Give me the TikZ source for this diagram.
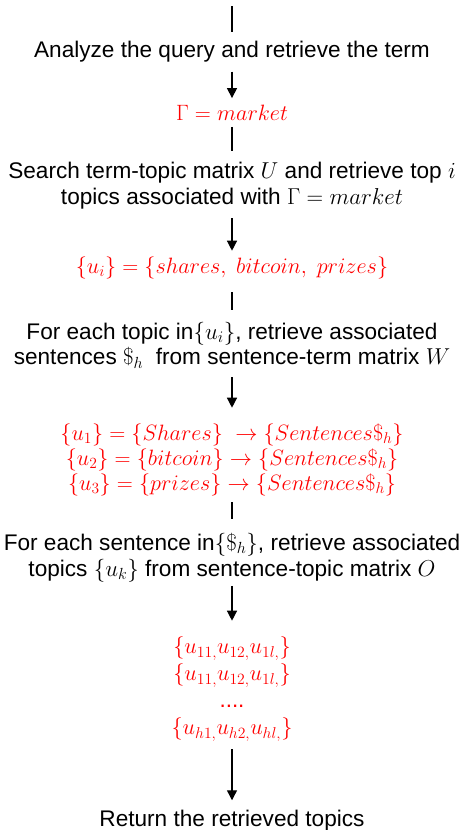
\RequirePackage{fix-cm}
\documentclass[tikz,border=0pt]{standalone}
\usepackage{fontspec}
\setmainfont{Liberation Sans}
\usetikzlibrary{arrows.meta}
\definecolor{redt}{RGB}{255,0,0}
\newcommand{\mth}[1]{{\fontsize{23}{25.5}\selectfont$#1$}}
\tikzset{
  txt/.style={inner sep=0pt, align=center, font=\fontsize{22.6}{25.5}\selectfont},
  rtxt/.style={inner sep=0pt, align=center, text=redt, font=\fontsize{22.2}{25}\selectfont},
  conn/.style={line width=1.3pt, black},
  arr/.style={conn, -{Triangle[length=10pt,width=10pt]}},
}
\begin{document}
\begin{tikzpicture}[x=1pt,y=-1pt]
\useasboundingbox (0,0) rectangle (460,830);
\coordinate (top) at (232,6);
\node[txt] (a) at (232,52) {Analyze the query and retrieve the term};
\node[rtxt] (g) at (232,113) {$\Gamma = market$};
\node[txt] (s) at (232,185.5) {Search term-topic matrix \mth{U} and retrieve top \mth{i}\\ topics associated with \mth{\Gamma = market}};
\node[rtxt] (ui) at (232,268) {$\{u_i\} = \{shares,\ bitcoin,\ prizes\}$};
\node[txt] (f) at (232,345) {For each topic in\mth{\{u_i\}}, retrieve associated\\ sentences \mth{\$_h}\ \ from sentence-term matrix \mth{W}};
\node[rtxt] (r3) at (232,460) {$\{u_1\} = \{Shares\}\ \rightarrow \{Sentences\$_h\}$\\ $\{u_2\} = \{bitcoin\} \rightarrow \{Sentences\$_h\}$\\ $\{u_3\} = \{prizes\} \rightarrow \{Sentences\$_h\}$};
\node[txt] (e) at (232,557.5) {For each sentence in\mth{\{\$_h\}}, retrieve associated\\ topics \mth{\{u_k\}} from sentence-topic matrix \mth{O}};
\node[rtxt, font=\fontsize{22.4}{27}\selectfont] (uk) at (232,689) {$\{u_{11,}u_{12,}u_{1l,}\}$\\ $\{u_{11,}u_{12,}u_{1l,}\}$\\ ....\\ $\{u_{h1,}u_{h2,}u_{hl,}\}$};
\node[txt] (ret) at (232,821) {Return the retrieved topics};
\draw[conn] (top) -- ([yshift=9pt]a.north);
\draw[arr] ([yshift=-9pt]a.south) -- ([yshift=7pt]g.north);
\draw[conn] ([yshift=-6pt]g.south) -- ([yshift=11.5pt]s.north);
\draw[arr] ([yshift=-9.5pt]s.south) -- ([yshift=6pt]ui.north);
\draw[conn] ([yshift=-13pt]ui.south) -- ([yshift=12pt]f.north);
\draw[arr] ([yshift=-9pt]f.south) -- ([yshift=16pt]r3.north);
\draw[conn] ([yshift=-6pt]r3.south) -- ([yshift=14.5pt]e.north);
\draw[arr] ([yshift=-4pt]e.south) -- ([yshift=16pt]uk.north);
\draw[arr] ([yshift=-8pt]uk.south) -- ([yshift=10pt]ret.north);
\end{tikzpicture}
\end{document}
